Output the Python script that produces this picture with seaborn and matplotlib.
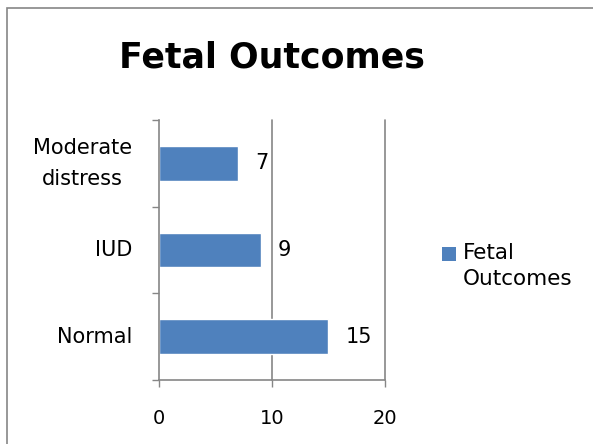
import pandas as pd
import matplotlib
matplotlib.use("Agg")
import matplotlib.pyplot as plt
import seaborn as sns
from matplotlib.patches import Rectangle

# chart data
categories = ["Normal", "IUD", "Moderate\ndistress"]
values = [15, 9, 7]
series_name = "Fetal Outcomes"
x_ticks = [0, 10, 20]

bar_color = "#4F81BD"
grid_color = "#868686"

sns.set_style("white")
plt.rcParams["font.family"] = ["DejaVu Sans"]
plt.rcParams["text.color"] = "black"
plt.rcParams["xtick.labelcolor"] = "black"
plt.rcParams["ytick.labelcolor"] = "black"

df = pd.DataFrame({"category": categories, "value": values})
# top-to-bottom order on the axis
order = categories[::-1]

fig = plt.figure(figsize=(5.93, 4.44), dpi=100)
ax = fig.add_axes([159 / 593, 1 - 380 / 444, 226 / 593, 260 / 444])

sns.barplot(data=df, x="value", y="category", order=order, color=bar_color,
            width=0.4, saturation=1, ax=ax)

ax.set_xlim(0, 20)
ax.set_ylim(len(order) - 0.5, -0.5)
ax.set_xticks(x_ticks)
ax.set_xticklabels([str(t) for t in x_ticks], fontsize=14)
ax.set_xlabel("")
ax.set_ylabel("")

# category boundaries carry the y ticks, like Excel
ax.set_yticks([i - 0.5 for i in range(len(order) + 1)], minor=False)
ax.set_yticklabels([])
ax.set_yticks(range(len(order)), minor=True)
ax.set_yticklabels(order, minor=True, fontsize=15, multialignment="center",
                   linespacing=1.7, va="center")
ax.tick_params(axis="y", which="minor", length=0, pad=19.5)
ax.tick_params(axis="y", which="major", length=5, width=1, color=grid_color,
               direction="out", left=True)
ax.tick_params(axis="x", length=5, width=1, color=grid_color,
               direction="out", bottom=True, pad=16)

for x in x_ticks[1:]:
    ax.axvline(x, color=grid_color, lw=1.2, zorder=0, clip_on=False)

sns.despine(ax=ax, top=True, right=True)
for side in ["left", "bottom"]:
    ax.spines[side].set_color(grid_color)
    ax.spines[side].set_linewidth(1.2)

# value labels
for i, cat in enumerate(order):
    v = df.loc[df["category"] == cat, "value"].iloc[0]
    ax.text(v + 1.5, i, str(v), va="center", ha="left", fontsize=15)

fig.text(272 / 593, 1 - 67 / 444, "Fetal Outcomes", ha="center",
         va="baseline", fontsize=25, fontweight="bold")

# legend
fig.patches.append(Rectangle((442 / 593, 1 - 261 / 444), 14 / 593, 14 / 444,
                             transform=fig.transFigure, facecolor=bar_color,
                             edgecolor="none"))
fig.text(463 / 593, 1 - 243 / 444, "Fetal\nOutcomes", ha="left", va="top",
         fontsize=15.5, linespacing=1.4)

# outer chart border
fig.patches.append(Rectangle((7 / 593, -0.01), 1.0, 1 - 8 / 444 + 0.01,
                             transform=fig.transFigure, facecolor="none",
                             edgecolor=grid_color, lw=1.2))

fig.savefig("out.png", dpi=100)
